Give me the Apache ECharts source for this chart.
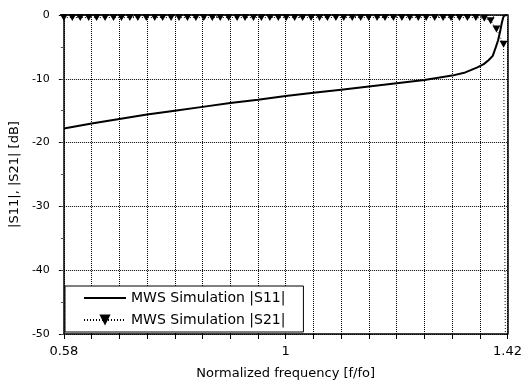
<!DOCTYPE html>
<html>
<head>
<meta charset="utf-8">
<script src="https://cdn.jsdelivr.net/npm/echarts@6/dist/echarts.min.js"></script>
<style>
html,body{margin:0;padding:0;background:#fff;}
#chart{width:525px;height:386px;}
</style>
</head>
<body>
<div id="chart"></div>
<script>
// ---- data ----
const s11Freq = [0.58, 0.6325, 0.685, 0.7375, 0.79, 0.8425, 0.895, 0.9475, 1.0, 1.0525, 1.105, 1.1575, 1.21, 1.2625, 1.315, 1.34, 1.363, 1.375, 1.384, 1.392, 1.398, 1.402, 1.406, 1.409, 1.4115, 1.4135, 1.42];
const s11Val  = [-17.8, -17.0, -16.3, -15.6, -15.0, -14.4, -13.8, -13.3, -12.7, -12.2, -11.7, -11.2, -10.7, -10.2, -9.5, -9.0, -8.2, -7.7, -7.1, -6.4, -5.0, -4.0, -2.6, -1.3, -0.5, -0.1, 0];

const s21Freq = [0.580, 0.596, 0.611, 0.627, 0.642, 0.658, 0.674, 0.689, 0.705, 0.720,
                 0.736, 0.752, 0.767, 0.783, 0.798, 0.814, 0.830, 0.845, 0.861, 0.876,
                 0.892, 0.908, 0.923, 0.939, 0.954, 0.970, 0.986, 1.001, 1.017, 1.032,
                 1.048, 1.064, 1.079, 1.095, 1.110, 1.126, 1.142, 1.157, 1.173, 1.188,
                 1.204, 1.220, 1.235, 1.251, 1.266, 1.282, 1.298, 1.313, 1.329, 1.344,
                 1.360, 1.376, 1.388, 1.399, 1.4125, 1.416];
const s21Val  = [-0.4, -0.4, -0.4, -0.4, -0.4, -0.4, -0.4, -0.4, -0.4, -0.4,
                 -0.4, -0.4, -0.4, -0.4, -0.4, -0.4, -0.4, -0.4, -0.4, -0.4,
                 -0.4, -0.4, -0.4, -0.4, -0.4, -0.4, -0.4, -0.4, -0.4, -0.4,
                 -0.4, -0.4, -0.4, -0.4, -0.4, -0.4, -0.4, -0.4, -0.4, -0.4,
                 -0.4, -0.4, -0.4, -0.4, -0.4, -0.4, -0.4, -0.4, -0.4, -0.4,
                 -0.4, -0.5, -0.9, -2.2, -4.6, -52];

const seriesNames = ['MWS Simulation |S11|', 'MWS Simulation |S21|'];
const xRange = [0.58, 1.42];
const xGridSteps = 16;                 // grid divisions across the x range
const xTickLabels = {0: '0.58', 8: '1', 16: '1.42'};
const yRange = [-50, 0];
const yInterval = 10;
const yMinorInterval = 5;
const xTitle = 'Normalized frequency [f/fo]';
const yTitle = '|S11|, |S21| [dB]';

// ---- chart ----
const FONT = 'DejaVu Sans';
const pairs = (xs, ys) => xs.map((x, i) => [x, ys[i]]);
const off = () => ({show: false});
const mkFrame = () => ({show: true, onZero: false, lineStyle: {color: '#000', width: 1.5}});
const mkGrid = () => ({show: true, lineStyle: {color: '#000', width: 1, type: 'dotted'}});

const chart = echarts.init(document.getElementById('chart'));
chart.setOption({
  animation: false,
  grid: {left: 63, right: 16, top: 15, bottom: 52},
  legend: {
    left: 65, top: 286, orient: 'vertical',
    itemWidth: 42, itemHeight: 14, itemGap: 8,
    padding: [5, 18, 5, 18],
    backgroundColor: '#fff', borderColor: '#000', borderWidth: 1,
    textStyle: {fontFamily: FONT, fontSize: 14, color: '#000'},
    data: [
      {name: seriesNames[0], itemStyle: {opacity: 0}},
      {name: seriesNames[1]}
    ]
  },
  xAxis: [
    { // data axis, drawn as the top frame
      type: 'value', min: xRange[0], max: xRange[1], position: 'top',
      axisLine: mkFrame(), axisTick: off(), axisLabel: off(), splitLine: off()
    },
    { // labelled bottom axis with grid lines
      type: 'value', min: 0, max: xGridSteps, interval: 1, position: 'bottom',
      name: xTitle, nameLocation: 'middle', nameGap: 33,
      nameTextStyle: {fontFamily: FONT, fontSize: 13, color: '#000'},
      axisLine: mkFrame(),
      axisTick: {show: true, length: 5},
      axisLabel: {
        margin: 11, fontFamily: FONT, fontSize: 13, color: '#000',
        showMinLabel: true, showMaxLabel: true,
        formatter: v => (xTickLabels[v] !== undefined ? xTickLabels[v] : '')
      },
      splitLine: mkGrid()
    },
    { // minor ticks
      type: 'value', min: 0, max: xGridSteps * 2, interval: 1, position: 'bottom',
      axisLine: off(), axisLabel: off(), splitLine: off(),
      axisTick: {show: true, length: 3}
    }
  ],
  yAxis: [
    {
      type: 'value', min: yRange[0], max: yRange[1], interval: yInterval, position: 'left',
      name: yTitle, nameLocation: 'middle', nameGap: 30,
      nameTextStyle: {fontFamily: FONT, fontSize: 13, color: '#000'},
      axisLine: mkFrame(),
      axisTick: {show: true, length: 5},
      axisLabel: {margin: 14, fontFamily: FONT, fontSize: 11, color: '#000'},
      splitLine: mkGrid()
    },
    { // right frame
      type: 'value', min: yRange[0], max: yRange[1], interval: yInterval, position: 'right',
      axisLine: mkFrame(), axisTick: off(), axisLabel: off(), splitLine: off()
    },
    { // minor ticks
      type: 'value', min: yRange[0], max: yRange[1], interval: yMinorInterval, position: 'left',
      axisLine: off(), axisLabel: off(), splitLine: off(),
      axisTick: {show: true, length: 3}
    }
  ],
  series: [
    {
      name: seriesNames[0], type: 'line',
      data: pairs(s11Freq, s11Val),
      symbol: 'none',
      lineStyle: {color: '#000', width: 2},
      itemStyle: {color: '#000'},
      z: 5
    },
    {
      name: seriesNames[1], type: 'line',
      data: pairs(s21Freq, s21Val),
      symbol: 'triangle', symbolRotate: 180, symbolSize: [8, 7],
      lineStyle: {color: '#000', width: 1, type: [1, 2]},
      itemStyle: {color: '#000'},
      z: 4
    }
  ]
});
</script>
</body>
</html>
